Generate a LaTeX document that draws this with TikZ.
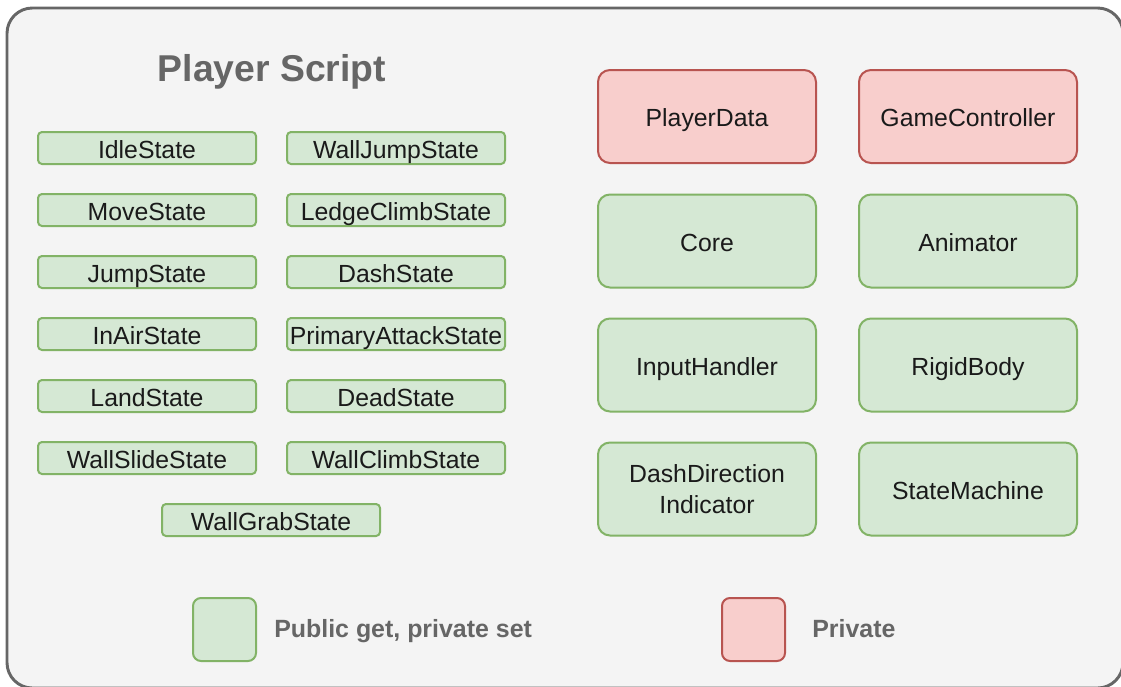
\documentclass[tikz,border=0pt]{standalone}
\usepackage{fontspec}
\setmainfont{Liberation Sans}
\definecolor{gfill}{HTML}{D5E8D4}
\definecolor{gline}{HTML}{82B366}
\definecolor{rfill}{HTML}{F8CECC}
\definecolor{rline}{HTML}{B85450}
\definecolor{bgfill}{HTML}{F4F4F4}
\definecolor{bgline}{HTML}{666666}
\definecolor{txt}{HTML}{1A1A1A}
\tikzset{
  base/.style={inner sep=0pt, outer sep=0pt, line width=1.5pt, text=txt,
    font=\fontsize{18.6}{23}\selectfont, align=center,
    text height=15pt, text depth=0pt},
  smallbox/.style={base, draw=gline, fill=gfill, rounded corners=3pt,
    minimum width=163.5pt, minimum height=24pt},
  bigg/.style={base, draw=gline, fill=gfill, rounded corners=9pt,
    minimum width=163.5pt, minimum height=69.75pt},
  bigr/.style={bigg, draw=rline, fill=rfill},
  legg/.style={base, draw=gline, fill=gfill, rounded corners=6pt,
    minimum width=47.25pt, minimum height=47.25pt},
  legr/.style={legg, draw=rline, fill=rfill},
  legtext/.style={anchor=base west, inner sep=0pt, text=bgline,
    font=\bfseries\fontsize{18.7}{22}\selectfont},
}
\begin{document}
\begin{tikzpicture}[x=0.75pt, y=-0.75pt]
\useasboundingbox (0,0) rectangle (1121,686);
\draw[line width=2.2pt, draw=bgline, fill=bgfill, rounded corners=19pt] (7,8) rectangle (1123,688);
\node[anchor=base, inner sep=0pt, text=bgline, font=\bfseries\fontsize{28}{32}\selectfont] (title) at (272,81) {Player Script};
% left column
\node[smallbox] (idle) at (147,148) {IdleState};
\node[smallbox] (move) at (147,210) {MoveState};
\node[smallbox] (jump) at (147,272) {JumpState};
\node[smallbox] (inair) at (147,334) {InAirState};
\node[smallbox] (land) at (147,396) {LandState};
\node[smallbox] (wallslide) at (147,458) {WallSlideState};
% right column
\node[smallbox] (walljump) at (396,148) {WallJumpState};
\node[smallbox] (ledge) at (396,210) {LedgeClimbState};
\node[smallbox] (dash) at (396,272) {DashState};
\node[smallbox] (primary) at (396,334) {PrimaryAttackState};
\node[smallbox] (dead) at (396,396) {DeadState};
\node[smallbox] (wallclimb) at (396,458) {WallClimbState};
\node[smallbox] (wallgrab) at (271,520) {WallGrabState};
% big boxes
\node[bigr] (pdata) at (707,116.5) {PlayerData};
\node[bigr] (gctrl) at (968,116.5) {GameController};
\node[bigg] (core) at (707,241) {Core};
\node[bigg] (anim) at (968,241) {Animator};
\node[bigg] (input) at (707,365) {InputHandler};
\node[bigg] (rigid) at (968,365) {RigidBody};
\node[bigg, text height={}, text depth={}] (ddi) at (707,489) {DashDirection\\[0pt]Indicator};
\node[bigg] (sm) at (968,489) {StateMachine};
% legend
\node[legg] (lg) at (224.5,629.5) {};
\node[legtext] (lgt) at (274,637) {Public get, private set};
\node[legr] (lr) at (753.5,629.5) {};
\node[legtext] (lrt) at (812,637) {Private};
\end{tikzpicture}
\end{document}
